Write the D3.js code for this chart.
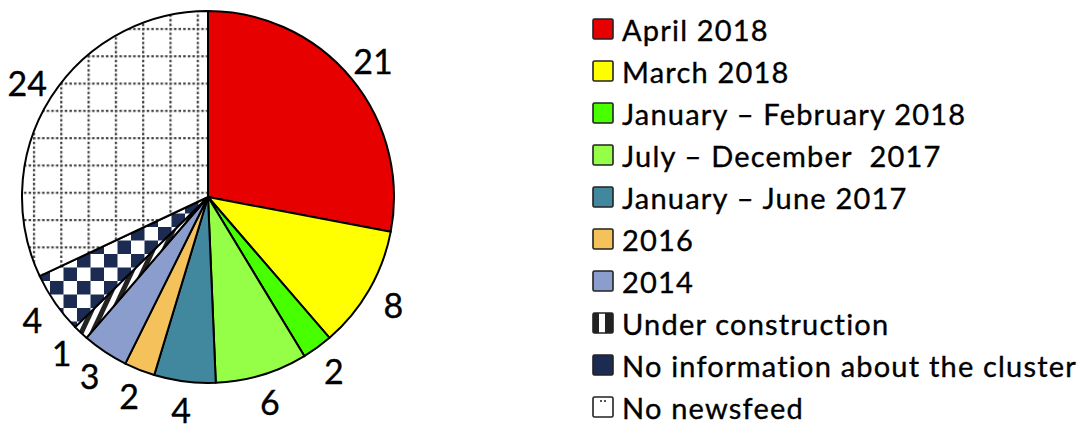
<!DOCTYPE html>
<html>
<head>
<meta charset="utf-8">
<script src="https://cdn.jsdelivr.net/npm/d3@7"></script>
<style>
  body { margin: 0; background: #fff; }
  text { font-family: Lato, "Open Sans", sans-serif; fill: #000; stroke: #000; stroke-width: 0.35px; }
</style>
</head>
<body>
<div id="chart"></div>
<script>
// data, clockwise from 12 o'clock
const categories = ["April 2018", "March 2018", "January \u2013 February 2018", "July \u2013 December  2017",
    "January \u2013 June 2017", "2016", "2014", "Under construction",
    "No information about the cluster", "No newsfeed"];
const counts = [21, 8, 2, 6, 4, 2, 3, 1, 4, 24];
const fills = ["#e60000", "#ffff00", "#48ff00", "#95ff48", "#41889f", "#f5c15a", "#8b9dcc",
    "url(#stripes)", "url(#checker)", "url(#grid)"];
const legendFills = fills.slice(0, 7).concat(["url(#lgStripes)", "#1b2b52", "url(#lgDots)"]);

const wSvg = 1087;
const hSvg = 429;
const cx = 208, cy = 197;
const radius = 186;

const svg = d3.select("#chart")
    .append("svg")
    .attr("width", wSvg)
    .attr("height", hSvg);

// patterns
const defs = svg.append("defs");

const grid = defs.append("pattern")
    .attr("id", "grid")
    .attr("patternUnits", "userSpaceOnUse")
    .attr("x", 16).attr("y", 22)
    .attr("width", 27.3).attr("height", 27.3);
grid.append("rect").attr("width", 27.3).attr("height", 27.3).attr("fill", "#fff");
grid.append("line").attr("x1", 1).attr("y1", 0).attr("x2", 1).attr("y2", 27.3)
    .attr("stroke", "#444").attr("stroke-width", 2.4).attr("stroke-dasharray", "2.5 2.1");
grid.append("line").attr("x1", 0).attr("y1", 1).attr("x2", 27.3).attr("y2", 1)
    .attr("stroke", "#444").attr("stroke-width", 2.4).attr("stroke-dasharray", "2.5 2.1");

const checker = defs.append("pattern")
    .attr("id", "checker")
    .attr("patternUnits", "userSpaceOnUse")
    .attr("x", 4).attr("y", 3)
    .attr("width", 27).attr("height", 27);
checker.append("rect").attr("width", 27).attr("height", 27).attr("fill", "#fff");
checker.append("rect").attr("width", 13.5).attr("height", 13.5).attr("fill", "#1b2b52");
checker.append("rect").attr("x", 13.5).attr("y", 13.5).attr("width", 13.5).attr("height", 13.5).attr("fill", "#1b2b52");

const stripes = defs.append("pattern")
    .attr("id", "stripes")
    .attr("patternUnits", "userSpaceOnUse")
    .attr("width", 10).attr("height", 10)
    .attr("patternTransform", "rotate(25)");
stripes.append("rect").attr("width", 10).attr("height", 10).attr("fill", "#fff");
stripes.append("rect").attr("width", 5).attr("height", 10).attr("fill", "#222");

const lgStripes = defs.append("pattern")
    .attr("id", "lgStripes")
    .attr("patternUnits", "objectBoundingBox")
    .attr("width", 1).attr("height", 1);
lgStripes.append("rect").attr("width", 20).attr("height", 20).attr("fill", "#fff");
lgStripes.append("rect").attr("x", 0).attr("width", 6).attr("height", 20).attr("fill", "#222");
lgStripes.append("rect").attr("x", 12).attr("width", 8).attr("height", 20).attr("fill", "#222");

const lgDots = defs.append("pattern")
    .attr("id", "lgDots")
    .attr("patternUnits", "objectBoundingBox")
    .attr("width", 1).attr("height", 1);
lgDots.append("rect").attr("width", 20).attr("height", 20).attr("fill", "#fff");
lgDots.append("rect").attr("x", 7).attr("y", 3).attr("width", 2).attr("height", 2).attr("fill", "#555");
lgDots.append("rect").attr("x", 11).attr("y", 3).attr("width", 2).attr("height", 2).attr("fill", "#555");

// pie
const slices = counts.map((v, i) => ({ name: categories[i], value: v, fill: fills[i] }));
const pie = d3.pie().value(d => d.value).sort(null);
const arc = d3.arc().innerRadius(0).outerRadius(radius);
const labelArc = d3.arc().innerRadius(214).outerRadius(214);

const g = svg.append("g").attr("transform", `translate(${cx}, ${cy})`);

g.selectAll("path")
    .data(pie(slices))
    .enter()
    .append("path")
    .attr("d", arc)
    .attr("fill", d => d.data.fill)
    .attr("stroke", "#000")
    .attr("stroke-width", 2)
    .attr("stroke-linejoin", "round");

g.selectAll("text.val")
    .data(pie(slices))
    .enter()
    .append("text")
    .attr("class", "val")
    .attr("x", d => labelArc.centroid(d)[0])
    .attr("y", d => labelArc.centroid(d)[1])
    .attr("text-anchor", "middle")
    .attr("dominant-baseline", "central")
    .style("font-size", "34px")
    .text(d => d.data.value);

// legend
const yLegend = d3.scalePoint(categories, [29, 407]);
const legend = svg.append("g").attr("transform", "translate(593, 0)");

const rows = legend.selectAll("g")
    .data(categories)
    .enter()
    .append("g")
    .attr("transform", d => `translate(0, ${yLegend(d)})`);

rows.append("rect")
    .attr("x", 0).attr("y", -10)
    .attr("width", 20).attr("height", 20)
    .attr("rx", 1.5)
    .attr("fill", (d, i) => legendFills[i])
    .attr("stroke", "#222")
    .attr("stroke-width", 1.6);

rows.append("text")
    .attr("x", 29)
    .attr("y", 12)
    .style("font-size", "29px")
    .style("letter-spacing", "1.2px")
    .style("white-space", "pre")
    .text(d => d);
</script>
</body>
</html>
